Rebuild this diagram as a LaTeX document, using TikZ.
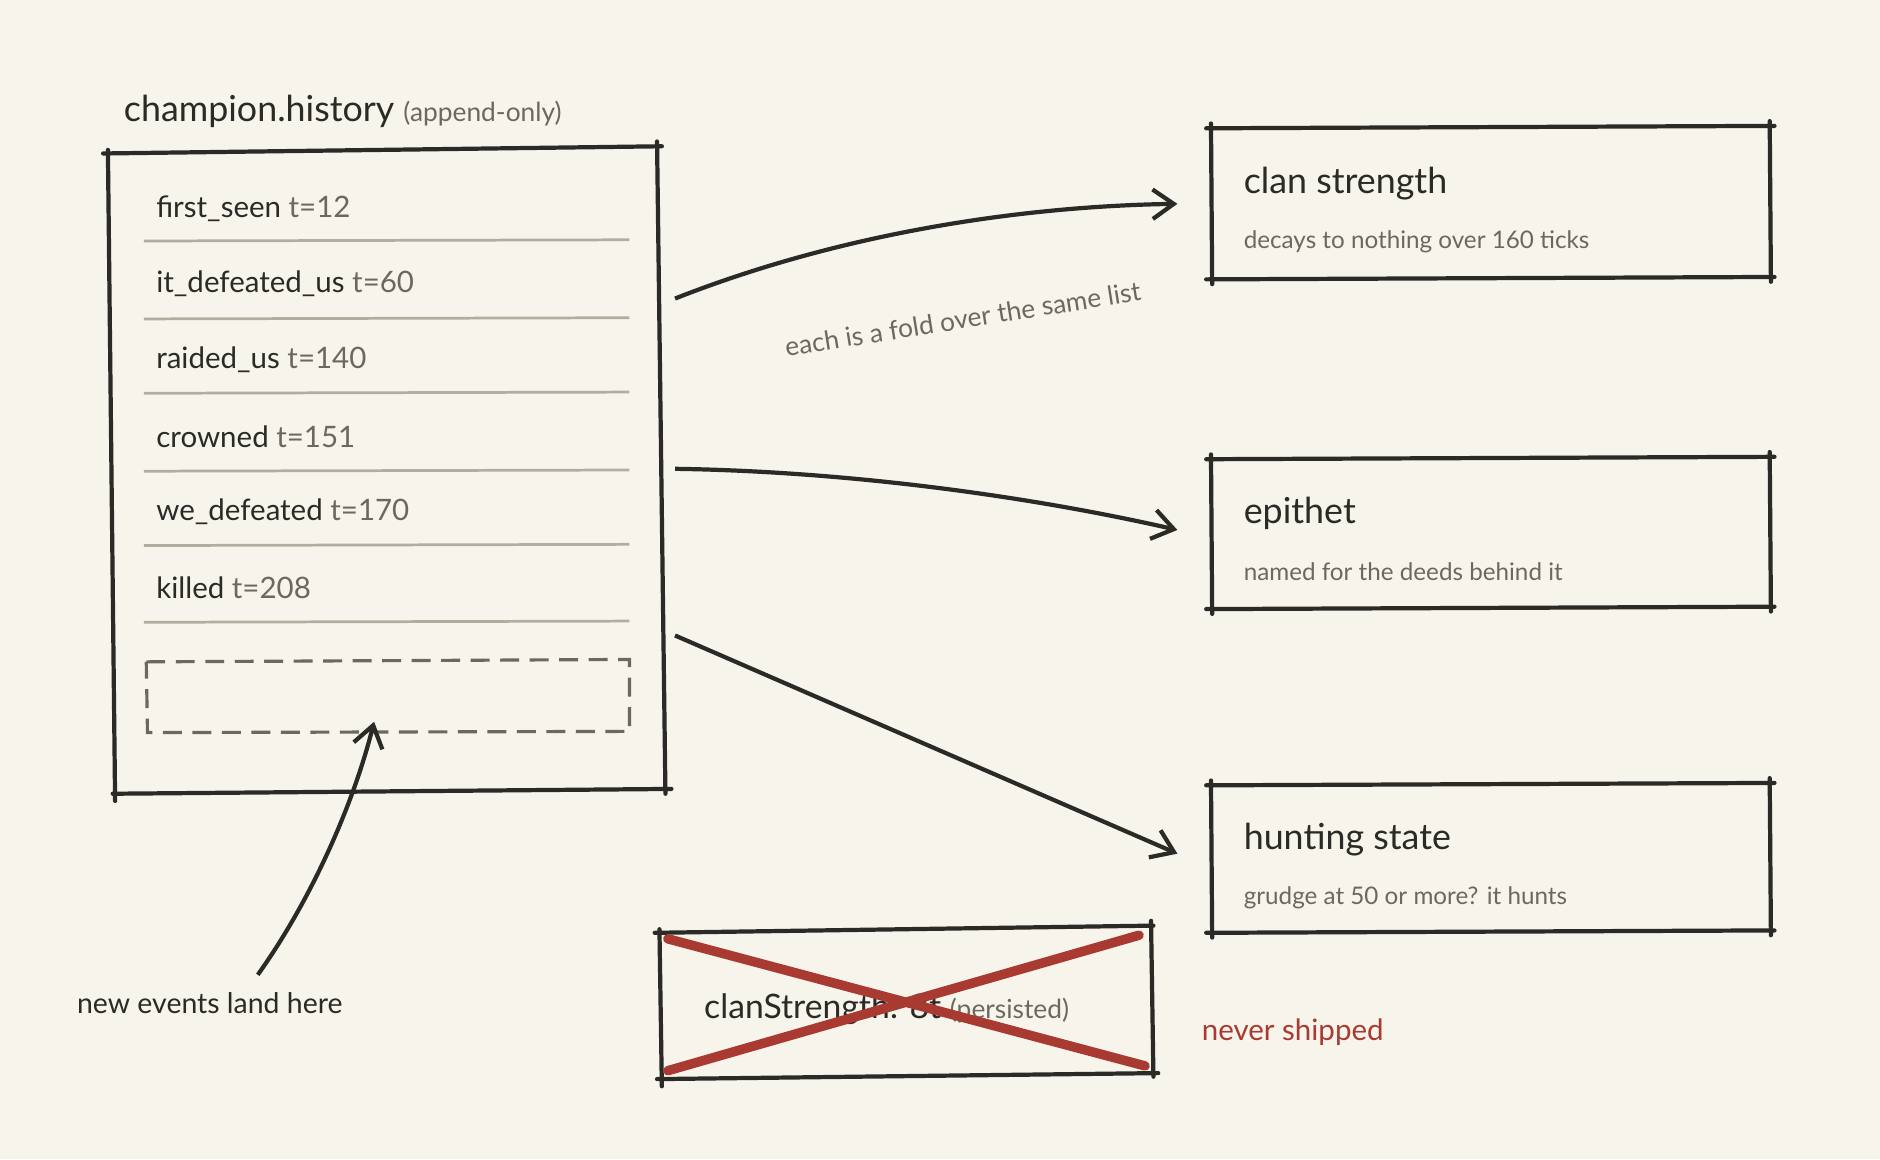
\documentclass[tikz,border=0pt]{standalone}
\usepackage{fontspec}
\setmainfont{Lato}
\usetikzlibrary{arrows.meta}
\definecolor{bg}{HTML}{F7F4EC}
\definecolor{ink}{HTML}{2B2A26}
\definecolor{mut}{HTML}{6B6860}
\definecolor{sep}{HTML}{B0AE9E}
\definecolor{red}{HTML}{A83A32}
\begin{document}
\begin{tikzpicture}[x=0.02cm,y=-0.02cm,
  box/.style={draw=ink,line width=2pt,line cap=round,line join=round},
  arr/.style={draw=ink,line width=2pt,-{Straight Barb[length=10pt,width=14pt,line width=2pt]}},
  row/.style={anchor=west,font=\fontsize{14}{16}\selectfont,text=ink,inner sep=0},
  big/.style={anchor=west,font=\fontsize{17}{20}\selectfont,text=ink,inner sep=0},
  sub/.style={anchor=west,font=\fontsize{11.5}{14}\selectfont,text=mut,inner sep=0},
  sepl/.style={draw=sep,line width=1.3pt}]
\fill[bg] (0,0) rectangle (1568,967);
\useasboundingbox (0,0) rectangle (1568,967);
% history box
\draw[box] (86,128) -- (552,122) (90,125) -- (96,668) (94,662) -- (560,658) (548,118) -- (555,662);
\node[big] (title) at (103,93) {champion.history \textcolor{mut}{\fontsize{12.5}{14}\selectfont (append-only)}};
\node[row] (r1) at (130,174) {first\_seen \textcolor{mut}{t=12}};
\node[row] (r2) at (130,237) {it\_defeated\_us \textcolor{mut}{t=60}};
\node[row] (r3) at (130,300) {raided\_us \textcolor{mut}{t=140}};
\node[row] (r4) at (130,364) {crowned \textcolor{mut}{t=151}};
\node[row] (r5) at (130,427) {we\_defeated \textcolor{mut}{t=170}};
\node[row] (r6) at (130,490) {killed \textcolor{mut}{t=208}};
\foreach \y in {201,266,328,393,455,519} \draw[sepl] (120,\y) -- (525,\y-1);
\draw[draw=mut,line width=1.5pt,dash pattern=on 9pt off 5pt] (122,552) -- (525,550) -- (525,610) -- (123,611) -- cycle;
\coordinate (slot) at (312,602);
% right boxes
\foreach \n/\a/\b in {cs/107/233, ep/383/508, hs/655/778}{
  \draw[box] (1006,\a) -- (1480,\a-2) (1010,\a-4) -- (1011,\b+4) (1006,\b) -- (1480,\b-2) (1476,\a-6) -- (1477,\b+2);
  \coordinate (\n) at (982,\a+63);
}
\node[big] (t1) at (1037,153) {clan strength};
\node[sub] (s1) at (1037,202) {decays to nothing over 160 ticks};
\node[big] (t2) at (1037,428) {epithet};
\node[sub] (s2) at (1037,477) {named for the deeds behind it};
\node[big] (t3) at (1037,700) {hunting state};
\node[sub] (s3) at (1037,749) {grudge at 50 or more? it hunts};
% arrows
\coordinate (o1) at (563,249);
\coordinate (o2) at (563,391);
\coordinate (o3) at (563,530);
\draw[arr] (o1) .. controls (700,195) and (850,172) .. (982,170);
\draw[arr] (o2) .. controls (700,393) and (850,412) .. (982,442);
\draw[arr] (o3) -- (982,712);
\node[font=\fontsize{12.5}{14}\selectfont,text=mut,rotate=9] (fold) at (803,266) {each is a fold over the same list};
% new events
\node[font=\fontsize{13.5}{16}\selectfont,text=ink] (ne) at (175,837) {new events land here};
\coordinate (nes) at (215,813);
\draw[arr] (nes) .. controls (260,750) and (295,670) .. (slot);
% crossed
\draw[box] (546,778) -- (962,772) (550,775) -- (552,906) (548,900) -- (966,895) (960,768) -- (962,898);
\node[anchor=west,font=\fontsize{16}{18}\selectfont,text=ink,inner sep=0] (cl) at (587,842) {clanStrength: 8t \textcolor{mut}{\fontsize{12.5}{14}\selectfont (persisted)}};
\draw[red,line width=4.5pt,line cap=round] (557,783) -- (955,889) (557,893) -- (950,780);
\node[anchor=west,font=\fontsize{14}{16}\selectfont,text=red,inner sep=0] (ns) at (1002,861) {never shipped};
\end{tikzpicture}
\end{document}
